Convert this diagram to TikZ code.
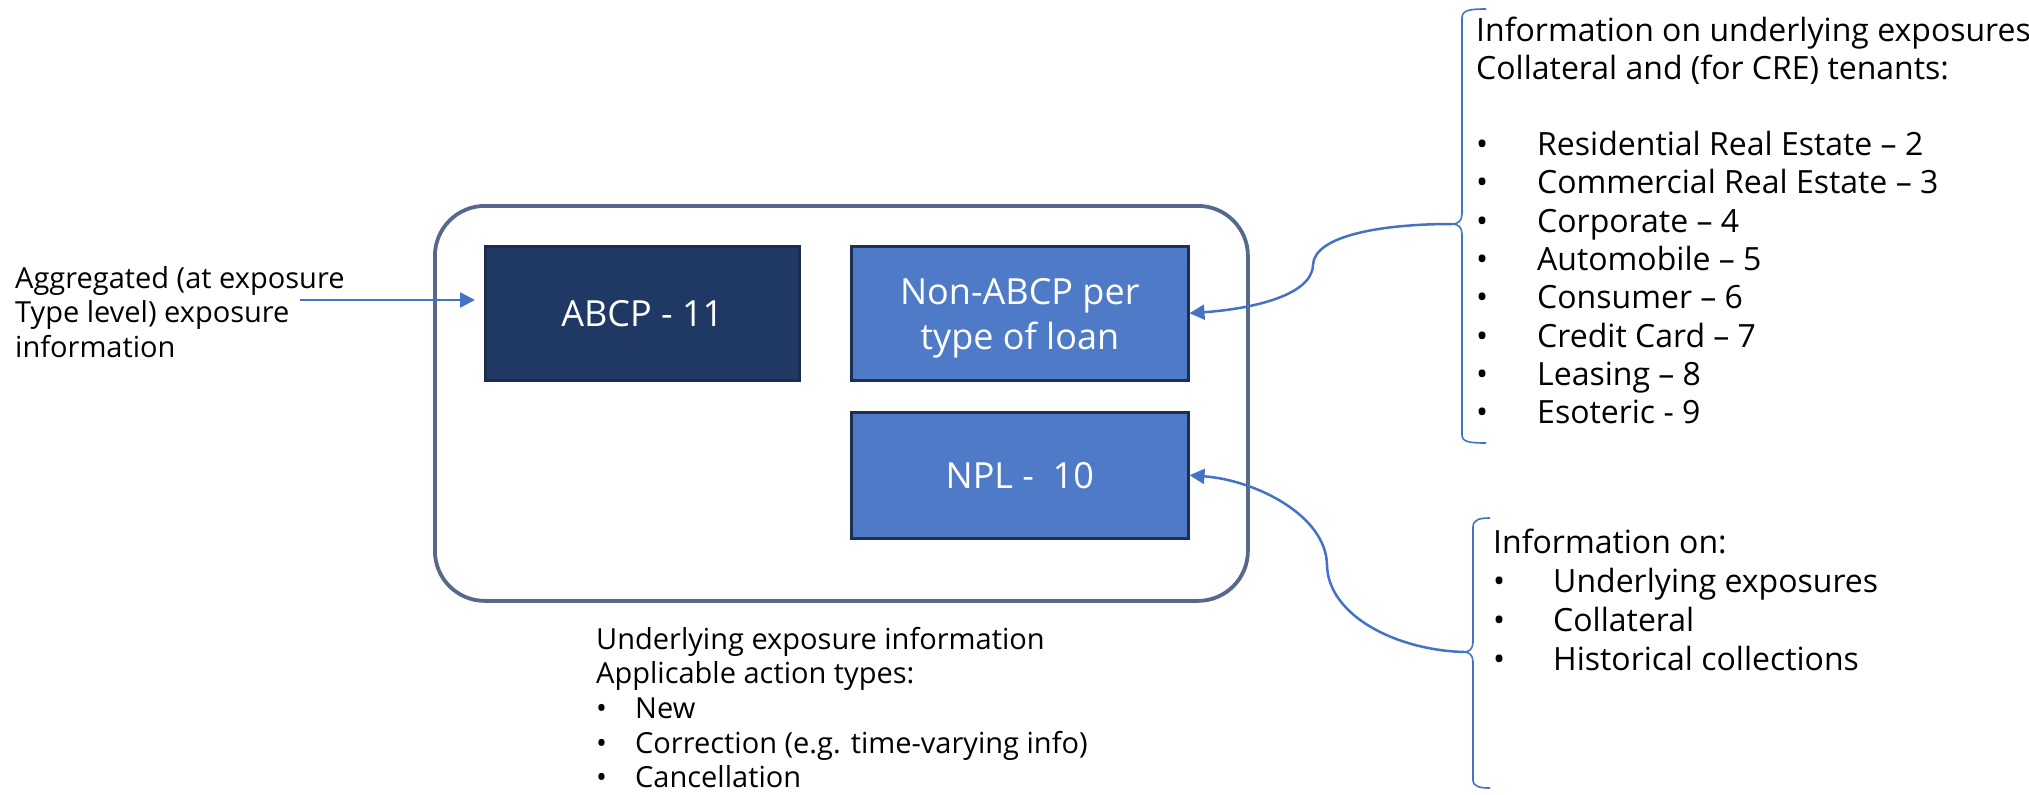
\documentclass[tikz,border=0pt]{standalone}
\usepackage{fontspec}
\setmainfont{Open Sans}
\usetikzlibrary{arrows.meta}
\definecolor{navyfill}{HTML}{203864}
\definecolor{navyline}{HTML}{1A2C4F}
\definecolor{accentfill}{HTML}{4F7AC7}
\definecolor{cellline}{HTML}{1E2F55}
\definecolor{framecol}{HTML}{56688C}
\definecolor{linkblue}{HTML}{4472C4}
\newcommand{\myblt}[1]{\makebox[#1][l]{•}}
\tikzset{
  cell/.style={rectangle, draw=cellline, line width=2.5pt, text=white, anchor=north west,
    font=\fontsize{36}{45}\selectfont, align=center, inner sep=0pt},
  txt/.style={anchor=base west, inner sep=0pt, text=black},
  conn/.style={draw=linkblue, line width=2.5pt, -{Triangle[length=15pt,width=15pt]}},
  bracepath/.style={draw=linkblue, line width=1.6pt},
  framebox/.style={rectangle, draw=framecol, line width=3.8pt, rounded corners=50pt,
    anchor=north west, inner sep=0pt},
}
\begin{document}
\begin{tikzpicture}[x=1pt,y=-1pt]
\useasboundingbox (0,0) rectangle (2029,795);
% container
\node[framebox, minimum width=813pt, minimum height=395pt] (outer) at (433,204) {};
% cells
\node[cell, fill=navyfill, draw=navyline, minimum width=314pt, minimum height=134pt] (abcp) at (484,245) {ABCP - 11};
\node[cell, fill=accentfill, minimum width=337pt, minimum height=134pt] (nonabcp) at (850,245) {\rule{0pt}{36pt}Non-ABCP per\\type of loan};
\node[cell, fill=accentfill, minimum width=337pt, minimum height=126pt] (npl) at (850,411) {NPL -\ \ 10};
% texts
\node[txt] (agg) at (15,288) {\parbox[t]{420pt}{\raggedright\fontsize{29}{34.5}\selectfont
  Aggregated (at exposure\\Type level) exposure\\information}};
\node[txt] (under) at (596,649) {\parbox[t]{600pt}{\raggedright\fontsize{29}{34.7}\selectfont
  Underlying exposure information\\Applicable action types:\\
  \myblt{39pt}New\\
  \myblt{39pt}Correction (e.g. time-varying info)\\
  \myblt{39pt}Cancellation}};
\node[txt] (info1) at (1476,41) {\parbox[t]{700pt}{\raggedright\fontsize{32}{38.25}\selectfont
  Information on underlying exposures\\Collateral and (for CRE) tenants:\\[38.25pt]
  \myblt{61pt}Residential Real Estate – 2\\
  \myblt{61pt}Commercial Real Estate – 3\\
  \myblt{61pt}Corporate – 4\\
  \myblt{61pt}Automobile – 5\\
  \myblt{61pt}Consumer – 6\\
  \myblt{61pt}Credit Card – 7\\
  \myblt{61pt}Leasing – 8\\
  \myblt{61pt}Esoteric - 9}};
\node[txt] (info2) at (1493,553) {\parbox[t]{500pt}{\raggedright\fontsize{32}{39}\selectfont
  Information on:\\
  \myblt{60pt}Underlying exposures\\
  \myblt{60pt}Collateral\\
  \myblt{60pt}Historical collections}};
% braces
\draw[bracepath] (1486,9) .. controls (1470,9) and (1462,10) .. (1462,18) -- (1462,214)
  .. controls (1462,221) and (1458,224) .. (1452,224)
  .. controls (1458,224) and (1462,227) .. (1462,234) -- (1462,435)
  .. controls (1462,442) and (1470,443) .. (1486,443);
\coordinate (b1tip) at (1452,224);
\draw[bracepath] (1490,518) .. controls (1481,518) and (1473,519) .. (1473,527) -- (1473,642)
  .. controls (1473,649) and (1469,652) .. (1464,652)
  .. controls (1469,652) and (1473,655) .. (1473,662) -- (1473,780)
  .. controls (1473,787) and (1481,788) .. (1490,788);
\coordinate (b2tip) at (1464,652);
% connectors
\coordinate (aggout) at (300,300);
\coordinate (abcpin) at (475,300);
\draw[conn] (aggout) -- (abcpin);
\draw[conn] (b1tip) .. controls (1380,224) and (1314,236) .. (1313,265)
  .. controls (1312,296) and (1250,309) .. (nonabcp.east);
\draw[conn] (b2tip) .. controls (1395,650) and (1328,615) .. (1327,565)
  .. controls (1326,515) and (1255,480) .. (npl.east);
\end{tikzpicture}
\end{document}
